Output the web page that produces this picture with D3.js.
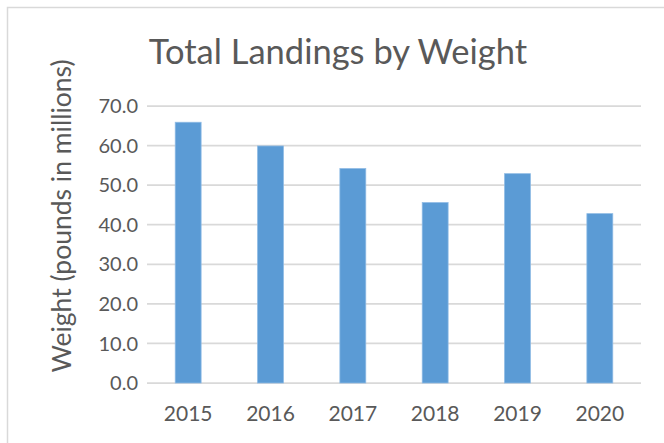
<!DOCTYPE html>
<html>
<head>
<meta charset="utf-8">
<script src="https://cdn.jsdelivr.net/npm/d3@7"></script>
<style>
  html, body { margin: 0; padding: 0; background: #fff; }
  svg { display: block; font-family: Lato, "Open Sans", sans-serif; }
</style>
</head>
<body>
<div id="chart"></div>
<script>
const years = ["2015", "2016", "2017", "2018", "2019", "2020"];
const weights = [65.9, 59.9, 54.2, 45.6, 52.9, 42.8];
const yTicks = [0, 10, 20, 30, 40, 50, 60, 70];

const width = 664;
const height = 443;
const margin = { top: 106, right: 23, bottom: 60, left: 147 };
const textColor = "#595959";

const svg = d3.select("#chart")
  .append("svg")
  .attr("width", width)
  .attr("height", height);

// chart area outline (only top/left edges fall inside the picture)
svg.append("rect")
  .attr("x", 7.5)
  .attr("y", 7.5)
  .attr("width", width)
  .attr("height", height)
  .attr("fill", "none")
  .attr("stroke", "#d9d9d9")
  .attr("stroke-width", 1.5);

const x = d3.scaleBand()
  .domain(years)
  .range([margin.left, width - margin.right])
  .paddingInner(0.685)
  .paddingOuter(0.3425);

const y = d3.scaleLinear()
  .domain([0, 70])
  .range([383, margin.top]);

// gridlines
svg.append("g")
  .selectAll("line")
  .data(yTicks)
  .enter().append("line")
  .attr("x1", margin.left)
  .attr("x2", width - margin.right)
  .attr("y1", d => y(d))
  .attr("y2", d => y(d))
  .attr("stroke", "#d9d9d9")
  .attr("stroke-width", 1.75);

// bars
svg.append("g")
  .selectAll("rect")
  .data(years)
  .enter().append("rect")
  .attr("x", d => x(d))
  .attr("y", (d, i) => y(weights[i]))
  .attr("width", x.bandwidth())
  .attr("height", (d, i) => y(0) - y(weights[i]))
  .attr("fill", "#5b9bd5")
  .attr("stroke", "#8fbbe5")
  .attr("stroke-width", 0.75);

// y tick labels
svg.append("g")
  .selectAll("text")
  .data(yTicks)
  .enter().append("text")
  .attr("x", 138)
  .attr("y", d => y(d))
  .attr("dy", "0.36em")
  .attr("text-anchor", "end")
  .attr("fill", textColor)
  .style("font-size", "20px")
  .text(d => d3.format(".1f")(d));

// x tick labels
svg.append("g")
  .selectAll("text")
  .data(years)
  .enter().append("text")
  .attr("x", d => x(d) + x.bandwidth() / 2)
  .attr("y", 421)
  .attr("text-anchor", "middle")
  .attr("fill", textColor)
  .style("font-size", "21px")
  .text(d => d);

// title
svg.append("text")
  .attr("x", 338)
  .attr("y", 64)
  .attr("text-anchor", "middle")
  .attr("fill", textColor)
  .style("font-size", "34.5px")
  .text("Total Landings by Weight");

// y axis title
svg.append("text")
  .attr("transform", "translate(71,216) rotate(-90)")
  .attr("text-anchor", "middle")
  .attr("fill", textColor)
  .style("font-size", "26.5px")
  .text("Weight (pounds in millions)");
</script>
</body>
</html>
